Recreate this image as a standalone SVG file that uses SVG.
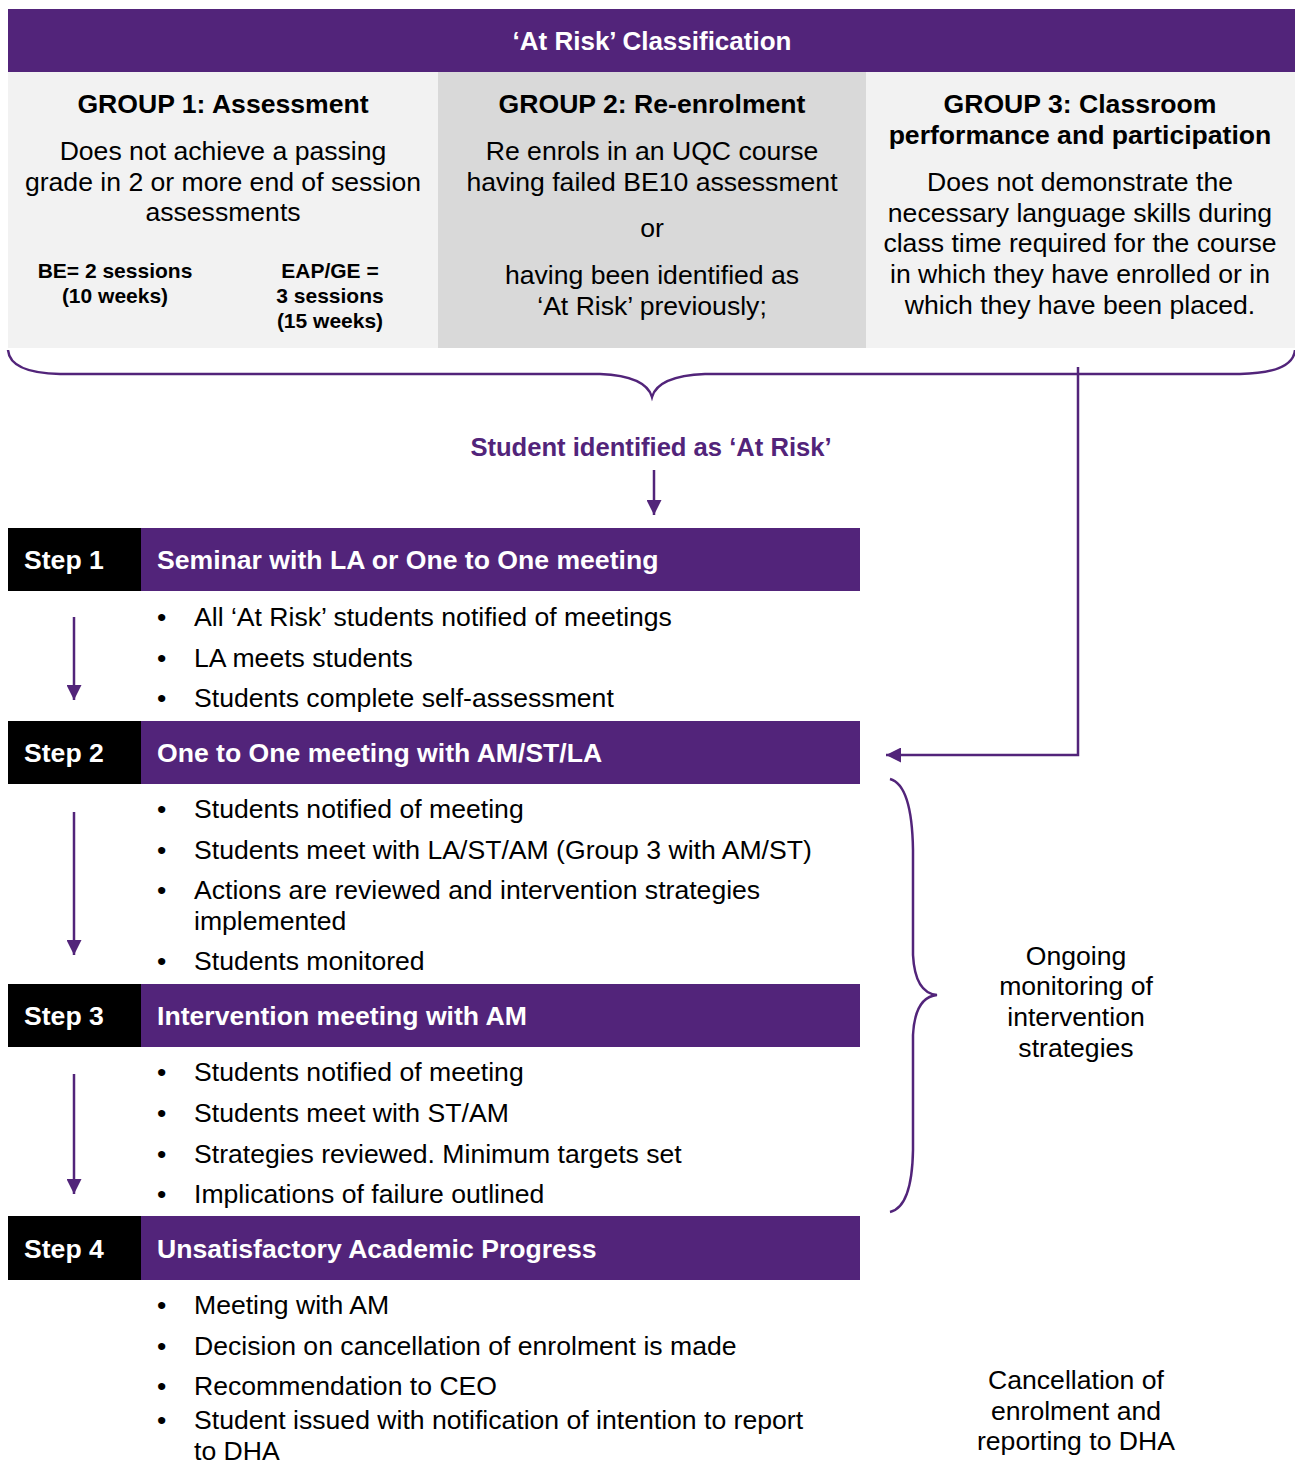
<svg xmlns="http://www.w3.org/2000/svg" width="1295" height="1466" viewBox="0 0 1295 1466">
<style>
text{font-family:"Liberation Sans",Arial,sans-serif;fill:#000}
.t{font-size:26.6px}
.h{font-size:26.6px;font-weight:bold}
.s{font-size:21px;font-weight:bold}
.c{text-anchor:middle}
.w{fill:#fff}
.p{fill:#52247A}
.bar{fill:#52247A}
.blk{fill:#000}
.ln{stroke:#52247A;stroke-width:2.5;fill:none}
</style>
<defs>
<marker id="ah" viewBox="0 0 10 10" refX="10" refY="5" markerWidth="6" markerHeight="6" markerUnits="strokeWidth" orient="auto">
<path d="M0,0 L10,5 L0,10 z" fill="#52247A"/>
</marker>
</defs>
<rect width="1295" height="1466" fill="#fff"/>
<g id="header">
<rect class="bar" x="8" y="9" width="1287" height="63"/>
<text class="h w c" x="652" y="50" style="font-size:26px">‘At Risk’ Classification</text>
</g>
<g id="group1">
<rect x="8" y="72" width="430" height="276" fill="#F2F2F2"/>
<text class="h c" x="223" y="113">GROUP 1: Assessment</text>
<text class="t c" x="223" y="160">Does not achieve a passing</text>
<text class="t c" x="223" y="191">grade in 2 or more end of session</text>
<text class="t c" x="223" y="221">assessments</text>
<text class="s c" x="115" y="278">BE= 2 sessions</text>
<text class="s c" x="115" y="303">(10 weeks)</text>
<text class="s c" x="330" y="278">EAP/GE =</text>
<text class="s c" x="330" y="303">3 sessions</text>
<text class="s c" x="330" y="328">(15 weeks)</text>
</g>
<g id="group2">
<rect x="438" y="72" width="428" height="276" fill="#D9D9D9"/>
<text class="h c" x="652" y="113">GROUP 2: Re-enrolment</text>
<text class="t c" x="652" y="160">Re enrols in an UQC course</text>
<text class="t c" x="652" y="191">having failed BE10 assessment</text>
<text class="t c" x="652" y="237">or</text>
<text class="t c" x="652" y="284">having been identified as</text>
<text class="t c" x="652" y="315">‘At Risk’ previously;</text>
</g>
<g id="group3">
<rect x="866" y="72" width="429" height="276" fill="#F2F2F2"/>
<text class="h c" x="1080" y="113">GROUP 3: Classroom</text>
<text class="h c" x="1080" y="144">performance and participation</text>
<text class="t c" x="1080" y="191">Does not demonstrate the</text>
<text class="t c" x="1080" y="222">necessary language skills during</text>
<text class="t c" x="1080" y="252">class time required for the course</text>
<text class="t c" x="1080" y="283">in which they have enrolled or in</text>
<text class="t c" x="1080" y="314">which they have been placed.</text>
</g>
<g id="identified">
<text class="h c p" x="651" y="456" style="font-size:25.6px">Student identified as ‘At Risk’</text>
</g>
<g id="step1">
<rect class="blk" x="8" y="528" width="133" height="63"/>
<rect class="bar" x="141" y="528" width="719" height="63"/>
<text class="h w" x="24" y="569">Step 1</text>
<text class="h w" x="157" y="569">Seminar with LA or One to One meeting</text>
<text class="t" x="157" y="626">•</text><text class="t" x="194" y="626">All ‘At Risk’ students notified of meetings</text>
<text class="t" x="157" y="667">•</text><text class="t" x="194" y="667">LA meets students</text>
<text class="t" x="157" y="707">•</text><text class="t" x="194" y="707">Students complete self-assessment</text>
</g>
<g id="step2">
<rect class="blk" x="8" y="721" width="133" height="63"/>
<rect class="bar" x="141" y="721" width="719" height="63"/>
<text class="h w" x="24" y="762">Step 2</text>
<text class="h w" x="157" y="762">One to One meeting with AM/ST/LA</text>
<text class="t" x="157" y="818">•</text><text class="t" x="194" y="818">Students notified of meeting</text>
<text class="t" x="157" y="859">•</text><text class="t" x="194" y="859">Students meet with LA/ST/AM (Group 3 with AM/ST)</text>
<text class="t" x="157" y="899">•</text><text class="t" x="194" y="899">Actions are reviewed and intervention strategies</text>
<text class="t" x="194" y="930">implemented</text>
<text class="t" x="157" y="970">•</text><text class="t" x="194" y="970">Students monitored</text>
</g>
<g id="step3">
<rect class="blk" x="8" y="984" width="133" height="63"/>
<rect class="bar" x="141" y="984" width="719" height="63"/>
<text class="h w" x="24" y="1025">Step 3</text>
<text class="h w" x="157" y="1025">Intervention meeting with AM</text>
<text class="t" x="157" y="1081">•</text><text class="t" x="194" y="1081">Students notified of meeting</text>
<text class="t" x="157" y="1122">•</text><text class="t" x="194" y="1122">Students meet with ST/AM</text>
<text class="t" x="157" y="1163">•</text><text class="t" x="194" y="1163">Strategies reviewed. Minimum targets set</text>
<text class="t" x="157" y="1203">•</text><text class="t" x="194" y="1203">Implications of failure outlined</text>
</g>
<g id="step4">
<rect class="blk" x="8" y="1216" width="133" height="64"/>
<rect class="bar" x="141" y="1216" width="719" height="64"/>
<text class="h w" x="24" y="1258">Step 4</text>
<text class="h w" x="157" y="1258">Unsatisfactory Academic Progress</text>
<text class="t" x="157" y="1314">•</text><text class="t" x="194" y="1314">Meeting with AM</text>
<text class="t" x="157" y="1355">•</text><text class="t" x="194" y="1355">Decision on cancellation of enrolment is made</text>
<text class="t" x="157" y="1395">•</text><text class="t" x="194" y="1395">Recommendation to CEO</text>
<text class="t" x="157" y="1429">•</text><text class="t" x="194" y="1429">Student issued with notification of intention to report</text>
<text class="t" x="194" y="1460">to DHA</text>
</g>
<g id="ongoing">
<text class="t c" x="1076" y="965">Ongoing</text>
<text class="t c" x="1076" y="995">monitoring of</text>
<text class="t c" x="1076" y="1026">intervention</text>
<text class="t c" x="1076" y="1057">strategies</text>
</g>
<g id="cancellation">
<text class="t c" x="1076" y="1389">Cancellation of</text>
<text class="t c" x="1076" y="1420">enrolment and</text>
<text class="t c" x="1076" y="1450">reporting to DHA</text>
</g>
<g id="connectors">
<path class="ln" d="M8,350 Q10,373 60,374 L600,374 Q646,376 652,397 Q658,376 705,374 L1240,374 Q1293,373 1295,350"/>
<path class="ln" d="M1078,367 L1078,755 L886,755" marker-end="url(#ah)"/>
<path class="ln" d="M654,470 L654,515" marker-end="url(#ah)"/>
<path class="ln" d="M74,617 L74,700" marker-end="url(#ah)"/>
<path class="ln" d="M74,812 L74,955" marker-end="url(#ah)"/>
<path class="ln" d="M74,1074 L74,1194" marker-end="url(#ah)"/>
<path class="ln" d="M890,779 Q912,785 913,850 L913,955 Q915,993 937,995 Q915,997 913,1035 L913,1150 Q912,1207 890,1212"/>
</g>
</svg>
